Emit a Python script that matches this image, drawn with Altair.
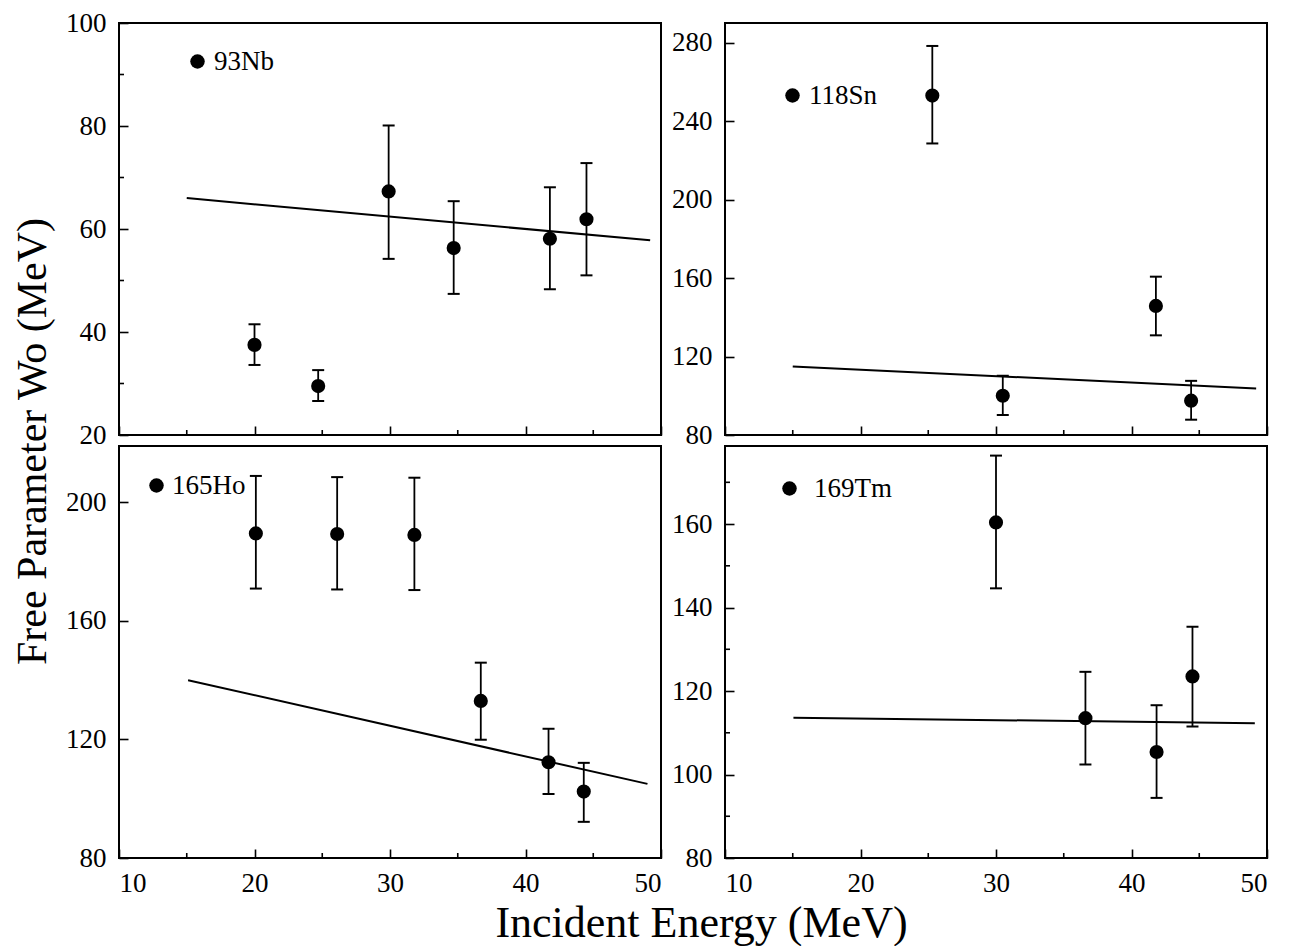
import altair as alt
import pandas as pd

FONT = "Liberation Serif"

# ---------------- data ----------------
x_ticks = [10, 20, 30, 40, 50]
x_minor = [15, 25, 35, 45]

# 93Nb
nb_E = [20.0, 24.7, 29.9, 34.7, 41.8, 44.5]
nb_W = [37.5, 29.5, 67.3, 56.3, 58.1, 61.9]
nb_lo = [33.6, 26.6, 54.2, 47.4, 48.3, 51.0]
nb_hi = [41.5, 32.6, 80.1, 65.4, 68.1, 72.8]
nb_fitE = [15.0, 49.2]
nb_fitW = [66.0, 57.8]
nb_yticks = [20, 40, 60, 80, 100]
nb_yminor = [30, 50, 70, 90]

# 118Sn
sn_E = [25.3, 30.5, 41.8, 44.4]
sn_W = [253.0, 100.0, 145.8, 97.5]
sn_lo = [228.6, 90.2, 130.8, 87.8]
sn_hi = [278.3, 110.2, 160.7, 107.6]
sn_fitE = [15.0, 49.2]
sn_fitW = [114.9, 103.7]
sn_yticks = [80, 120, 160, 200, 240, 280]
sn_yminor = []

# 165Ho
ho_E = [20.1, 26.1, 31.8, 36.7, 41.7, 44.3]
ho_W = [189.5, 189.3, 189.0, 133.0, 112.3, 102.4]
ho_lo = [170.9, 170.6, 170.4, 119.9, 101.6, 92.2]
ho_hi = [208.9, 208.5, 208.3, 145.9, 123.6, 112.1]
ho_fitE = [15.1, 49.0]
ho_fitW = [140.0, 105.0]
ho_yticks = [80, 120, 160, 200]
ho_yminor = []

# 169Tm
tm_E = [30.0, 36.6, 41.85, 44.5]
tm_W = [160.4, 113.5, 105.4, 123.5]
tm_lo = [144.6, 102.4, 94.4, 111.5]
tm_hi = [176.4, 124.6, 116.6, 135.4]
tm_fitE = [15.05, 49.1]
tm_fitW = [113.6, 112.3]
tm_yticks = [80, 100, 120, 140, 160]
tm_yminor = [90, 110, 130, 150, 170]

# ---------------- layout ----------------
PW, PH = 542, 412
TICK = 9
MINOR = 5


def panel(name, E, Wv, lo, hi, fitE, fitW, ydom, yticks, yminor,
          xlabels, leg_x, leg_y, leg_off, ytitle=None, xtitle=None):
    xs = alt.Scale(domain=[10, 50], nice=False, zero=False)
    ys = alt.Scale(domain=ydom, nice=False, zero=False)

    xaxis_kw = dict(values=x_ticks, tickSize=TICK, offset=-TICK, domain=False,
                    grid=False, tickColor="black", tickWidth=1.6,
                    labels=xlabels, labelFont=FONT, labelFontSize=27,
                    labelColor="black", labelPadding=12, format="d")
    if xtitle:
        xaxis_kw.update(title=xtitle, titleFont=FONT, titleFontSize=44,
                        titleFontWeight="normal", titleColor="black",
                        titleX=582, titleY=87, titleAlign="center",
                        titleBaseline="alphabetic")
    else:
        xaxis_kw.update(title=None)
    yaxis_kw = dict(values=yticks, tickSize=TICK, offset=-TICK, domain=False,
                    grid=False, tickColor="black", tickWidth=1.6,
                    labelFont=FONT, labelFontSize=27, labelColor="black",
                    labelPadding=13, format="d")
    if ytitle:
        yaxis_kw.update(title=ytitle, titleFont=FONT, titleFontSize=42,
                        titleFontWeight="normal", titleColor="black",
                        titleX=-83, titleY=-5, titleAngle=-90,
                        titleAlign="center", titleBaseline="alphabetic")
    else:
        yaxis_kw.update(title=None)
    xa = alt.Axis(**xaxis_kw)
    ya = alt.Axis(**yaxis_kw)

    df = pd.DataFrame({"E": E, "W": Wv, "lo": lo, "hi": hi,
                       "nuc": [name] * len(E)})
    fit = pd.DataFrame({"E": fitE, "W": fitW})

    X = alt.X("E:Q", scale=xs, axis=xa)
    Y = alt.Y("W:Q", scale=ys, axis=ya)

    base = alt.Chart(df)
    bars = base.mark_rule(strokeWidth=1.8, color="black").encode(
        x=X, y=alt.Y("lo:Q", scale=ys, axis=ya), y2="hi:Q")
    cap_lo = base.mark_tick(orient="horizontal", size=12, thickness=2,
                            color="black", opacity=1).encode(
        x=X, y=alt.Y("lo:Q", scale=ys, axis=ya))
    cap_hi = base.mark_tick(orient="horizontal", size=12, thickness=2,
                            color="black", opacity=1).encode(
        x=X, y=alt.Y("hi:Q", scale=ys, axis=ya))
    pts = base.mark_circle(size=200, opacity=1).encode(
        x=X, y=Y,
        color=alt.Color("nuc:N", scale=alt.Scale(range=["black"]),
                        legend=alt.Legend(
                            orient="none", legendX=leg_x, legendY=leg_y,
                            title=None, symbolType="circle", symbolSize=210,
                            symbolFillColor="black", symbolStrokeWidth=0,
                            symbolOpacity=1,
                            labelFont=FONT, labelFontSize=27,
                            labelColor="black", labelOffset=leg_off,
                            padding=0)))
    line = alt.Chart(fit).mark_line(color="black", strokeWidth=2).encode(
        x=X, y=Y)

    layers = [line, bars, cap_lo, cap_hi, pts]

    xm = pd.DataFrame({"E": x_minor})
    layers.append(alt.Chart(xm).mark_rule(color="black", strokeWidth=1.6).encode(
        x=X, y=alt.value(PH), y2=alt.value(PH - MINOR)))
    if yminor:
        ym = pd.DataFrame({"W": yminor})
        layers.append(alt.Chart(ym).mark_rule(color="black", strokeWidth=1.6).encode(
            y=Y, x=alt.value(0), x2=alt.value(MINOR)))

    return alt.layer(*layers).properties(width=PW, height=PH)


tl = panel("93Nb", nb_E, nb_W, nb_lo, nb_hi, nb_fitE, nb_fitW, [20, 100],
           nb_yticks, nb_yminor, False, 65, 25, 3)
tr = panel("118Sn", sn_E, sn_W, sn_lo, sn_hi, sn_fitE, sn_fitW, [80, 290],
           sn_yticks, sn_yminor, False, 54, 59, 3)
bl = panel("165Ho", ho_E, ho_W, ho_lo, ho_hi, ho_fitE, ho_fitW, [80, 219],
           ho_yticks, ho_yminor, True, 24, 26, 2,
           ytitle="Free Parameter Wo (MeV)", xtitle="Incident Energy (MeV)")
br = panel("169Tm", tm_E, tm_W, tm_lo, tm_hi, tm_fitE, tm_fitW, [80, 178.7],
           tm_yticks, tm_yminor, True, 51, 29, 11)

chart = alt.concat(
    tl, tr, bl, br, columns=2,
    spacing={"row": 11, "column": 64}, bounds="flush"
).resolve_scale(
    color="independent", x="independent", y="independent"
).properties(
    background="white",
    padding={"left": 1, "top": 0, "right": 5, "bottom": 0},
).configure_view(
    stroke="black", strokeWidth=2
)

chart.save("out.html", embed_options={"renderer": "svg", "actions": False})
